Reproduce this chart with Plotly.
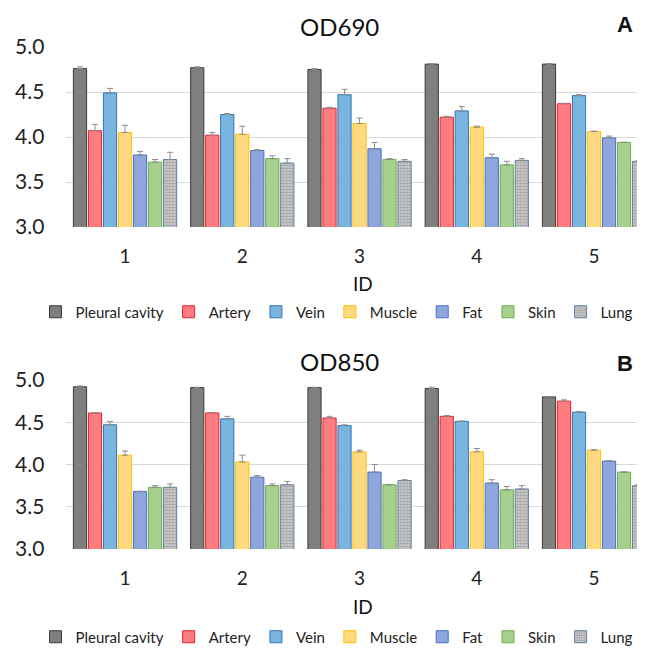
import plotly.graph_objects as go

ids = [1, 2, 3, 4, 5]
tissues = ["Pleural cavity", "Artery", "Vein", "Muscle", "Fat", "Skin", "Lung"]

od690 = {
    "Pleural cavity": [4.76, 4.77, 4.75, 4.81, 4.81],
    "Artery":         [4.07, 4.02, 4.32, 4.22, 4.37],
    "Vein":           [4.49, 4.25, 4.47, 4.29, 4.46],
    "Muscle":         [4.05, 4.03, 4.15, 4.11, 4.06],
    "Fat":            [3.80, 3.85, 3.87, 3.77, 3.99],
    "Skin":           [3.72, 3.76, 3.75, 3.69, 3.94],
    "Lung":           [3.75, 3.71, 3.73, 3.74, 3.73],
}
od690_err = {
    "Pleural cavity": [0.02, 0.01, 0.01, 0.005, 0.005],
    "Artery":         [0.07, 0.03, 0.01, 0.01, 0.005],
    "Vein":           [0.05, 0.01, 0.06, 0.05, 0.01],
    "Muscle":         [0.08, 0.09, 0.06, 0.01, 0.005],
    "Fat":            [0.04, 0.01, 0.07, 0.04, 0.02],
    "Skin":           [0.03, 0.03, 0.01, 0.04, 0.0],
    "Lung":           [0.08, 0.05, 0.02, 0.02, 0.005],
}
od850 = {
    "Pleural cavity": [4.92, 4.91, 4.91, 4.90, 4.80],
    "Artery":         [4.61, 4.61, 4.55, 4.57, 4.75],
    "Vein":           [4.47, 4.54, 4.46, 4.51, 4.62],
    "Muscle":         [4.11, 4.03, 4.15, 4.15, 4.17],
    "Fat":            [3.68, 3.85, 3.91, 3.78, 4.04],
    "Skin":           [3.73, 3.75, 3.76, 3.70, 3.91],
    "Lung":           [3.73, 3.76, 3.81, 3.71, 3.75],
}
od850_err = {
    "Pleural cavity": [0.01, 0.005, 0.005, 0.015, 0.005],
    "Artery":         [0.005, 0.005, 0.02, 0.01, 0.015],
    "Vein":           [0.04, 0.03, 0.01, 0.005, 0.005],
    "Muscle":         [0.05, 0.08, 0.02, 0.04, 0.005],
    "Fat":            [0.005, 0.02, 0.09, 0.04, 0.005],
    "Skin":           [0.02, 0.02, 0.005, 0.04, 0.0],
    "Lung":           [0.04, 0.04, 0.01, 0.04, 0.015],
}

fills = {
    "Pleural cavity": "#7f7f7f", "Artery": "#ff7c80", "Vein": "#79b5df",
    "Muscle": "#ffd97f", "Fat": "#8fa6dc", "Skin": "#a6d08e", "Lung": "#bdbdbd",
}
edges = {
    "Pleural cavity": "#3a3a3a", "Artery": "#e8202a", "Vein": "#2e75b6",
    "Muscle": "#ffc000", "Fat": "#4472c4", "Skin": "#70ad47", "Lung": "#5b7fa6",
}

FONT = "Lato"
OFF = 8                     # page body margin in the browser
W, H = 645 - OFF, 656 - OFF


def px(x):
    return (x - OFF) / W


def py(y):
    return 1 - (y - OFF) / H


fig = go.Figure()

for data, errs, xa, ya, lg in [
    (od690, od690_err, "x", "y", "legend"),
    (od850, od850_err, "x2", "y2", "legend2"),
]:
    for t in tissues:
        marker = dict(color=fills[t], line=dict(color=edges[t], width=1))
        if t == "Lung":
            marker["pattern"] = dict(shape=".", fgcolor="#6f6f6f", bgcolor="#d6d6d6",
                                     size=3, solidity=0.55)
        fig.add_trace(go.Bar(
            x=ids, y=data[t], name=t, xaxis=xa, yaxis=ya, legend=lg,
            marker=marker,
            error_y=dict(type="data", array=errs[t], arrayminus=[0] * 5,
                         symmetric=False, color="#8c8c8c", thickness=1, width=3),
        ))

left = 66.4
xr = [0.5, 0.5 + (645 - left) / 117.25]
yax = dict(range=[3, 5], dtick=0.5, tickformat=".1f", showgrid=True, automargin=False,
           gridcolor="#d9d9d9", gridwidth=1, zeroline=False, showline=False,
           tickfont=dict(family=FONT, size=21, color="#222"), ticklabelstandoff=21)
xax = dict(range=xr, tickvals=ids, showgrid=False, zeroline=False, showline=False,
           automargin=False,
           tickfont=dict(family=FONT, size=19, color="#222"), ticklabelstandoff=16)

fig.update_layout(
    width=W, height=H,
    margin=dict(l=0, r=0, t=0, b=0, autoexpand=False),
    paper_bgcolor="white", plot_bgcolor="white",
    barmode="group", bargap=0.104, bargroupgap=0.12,
    xaxis=dict(domain=[px(left), 1], anchor="y", **xax),
    yaxis=dict(domain=[py(227), py(47)], anchor="x", **yax),
    xaxis2=dict(domain=[px(left), 1], anchor="y2", **xax),
    yaxis2=dict(domain=[py(549), py(380)], anchor="x2", **yax),
    legend=dict(orientation="h", x=px(337), xanchor="center", y=py(312), yanchor="middle",
                font=dict(family=FONT, size=15, color="#222"), bgcolor="rgba(0,0,0,0)"),
    legend2=dict(orientation="h", x=px(337), xanchor="center", y=py(637), yanchor="middle",
                 font=dict(family=FONT, size=15, color="#222"), bgcolor="rgba(0,0,0,0)"),
)

annots = [
    ("OD690", 339, 26, 24, False),
    ("A", 625, 24, 22, True),
    ("ID", 363, 283, 19, False),
    ("OD850", 339, 361, 24, False),
    ("B", 625, 363, 22, True),
    ("ID", 363, 606, 19, False),
]
for txt, ax_, ay_, sz, bold in annots:
    fig.add_annotation(
        text=f"<b>{txt}</b>" if bold else txt, xref="paper", yref="paper",
        x=px(ax_), y=py(ay_), xanchor="center", yanchor="middle", showarrow=False,
        font=dict(family="Liberation Sans" if bold else FONT, size=sz, color="#111"),
    )

fig.write_html("out.html")
